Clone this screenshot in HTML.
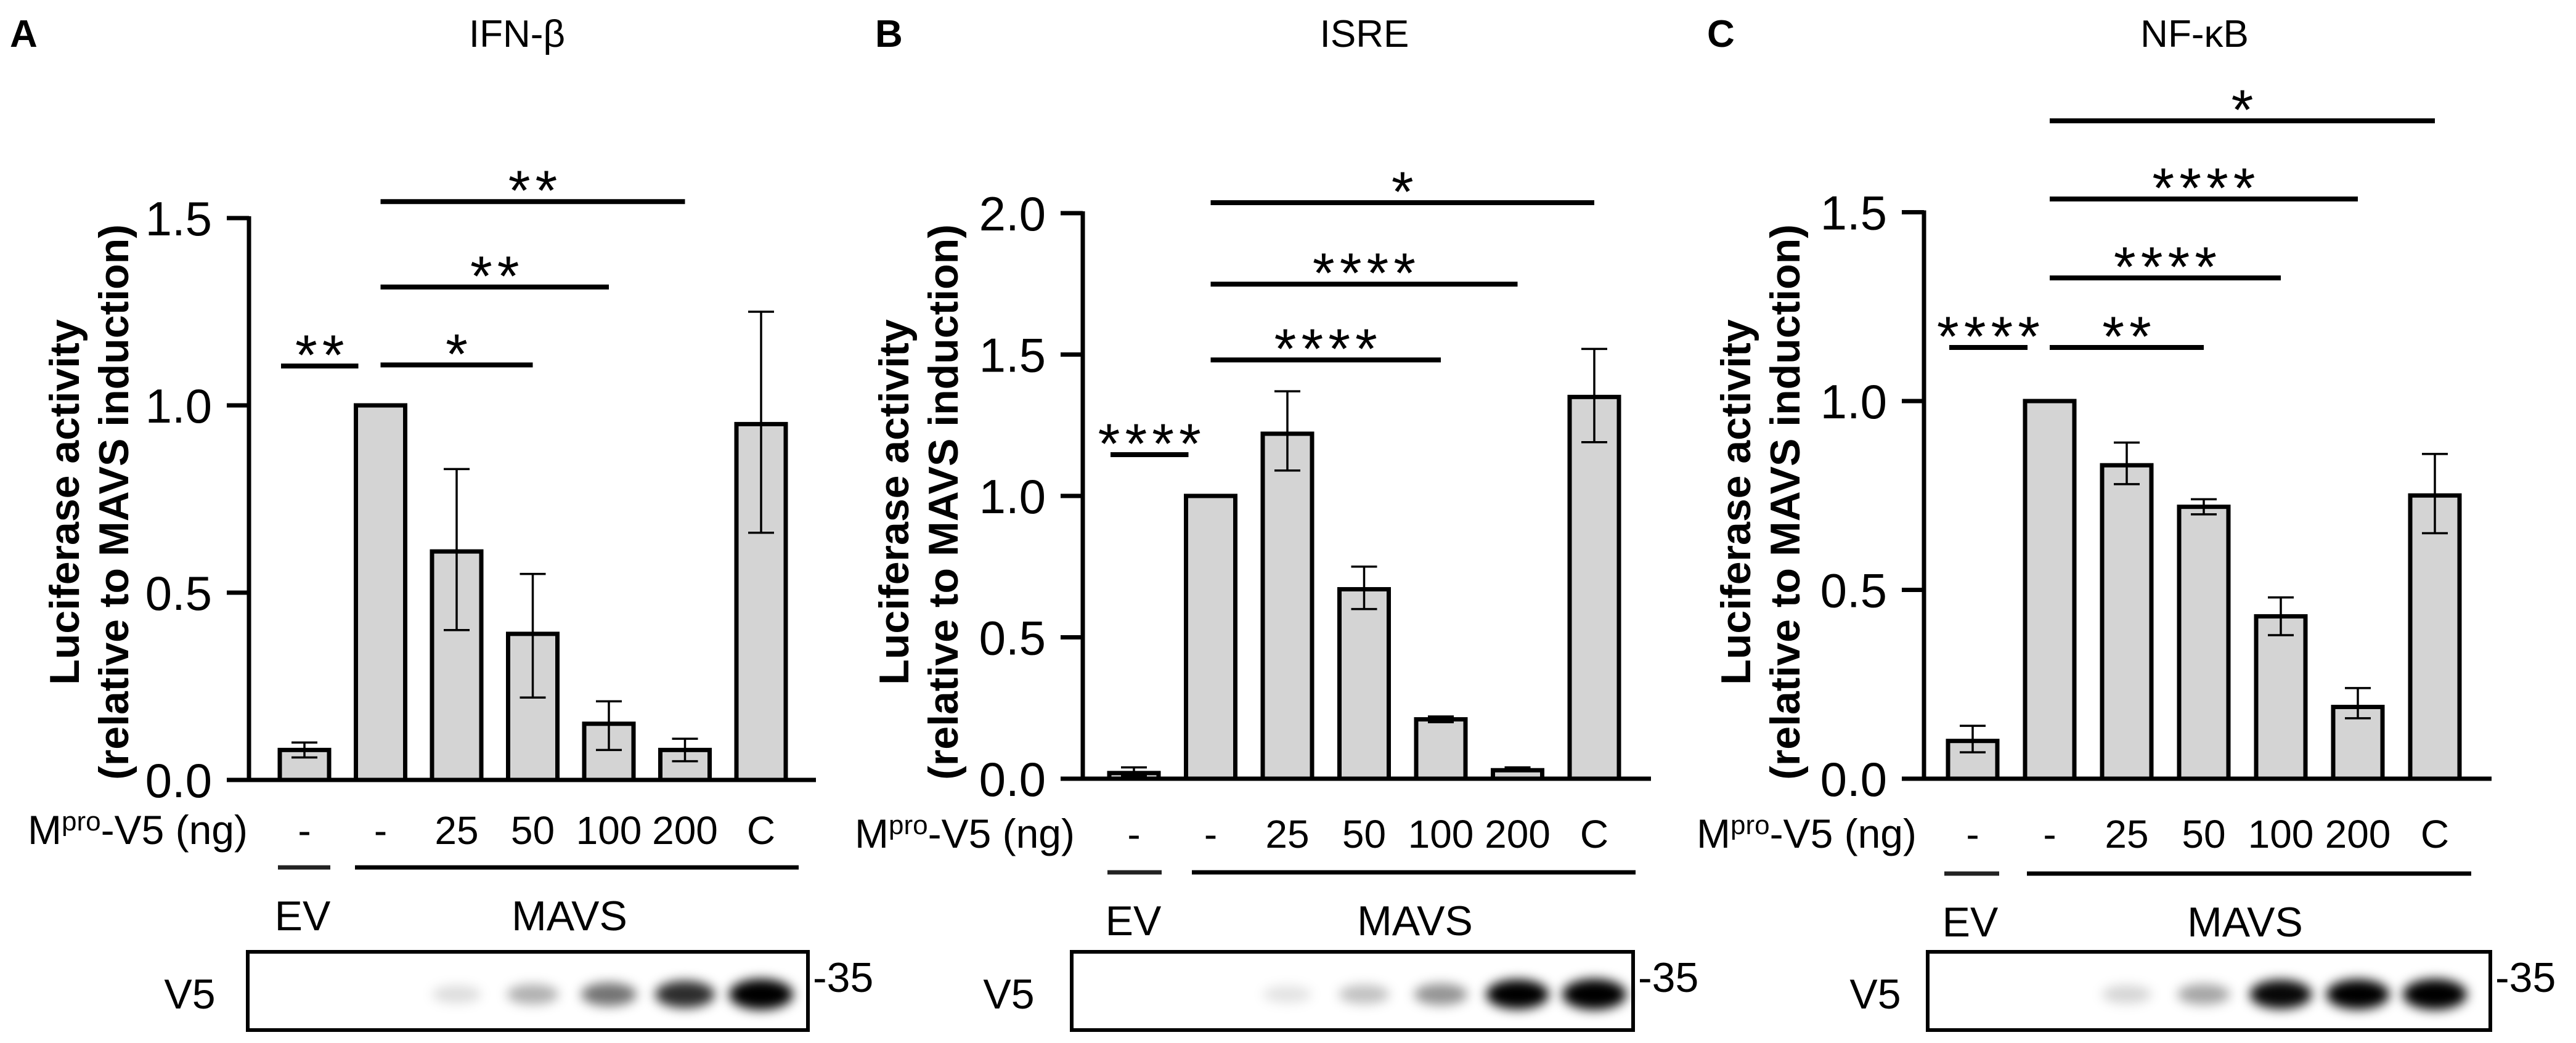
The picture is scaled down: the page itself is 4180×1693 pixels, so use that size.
<!DOCTYPE html>
<html><head><meta charset="utf-8">
<style>
html,body{margin:0;padding:0;background:#fff;}
svg{display:block;font-family:"Liberation Sans",sans-serif;}
</style></head>
<body>
<svg id="fig" xmlns="http://www.w3.org/2000/svg" width="4180" height="1693" viewBox="0 0 4180 1693">
<defs>
<filter id="blur" x="-50%" y="-80%" width="200%" height="260%"><feGaussianBlur stdDeviation="9"/></filter>
</defs>
</svg>
<script>
// ---- data ----
const categories = ["-", "-", "25", "50", "100", "200", "C"];
const meansA = [0.08, 1.0, 0.61, 0.39, 0.15, 0.08, 0.95];
const errLoA = [0.06, 1.0, 0.40, 0.22, 0.08, 0.05, 0.66];
const errHiA = [0.10, 1.0, 0.83, 0.55, 0.21, 0.11, 1.25];
const ticksA = [0, 0.5, 1.0, 1.5];
const tickLabelsA = ["0.0", "0.5", "1.0", "1.5"];
const sigFromA = [0, 1, 1, 1];
const sigToA = [1, 3, 4, 5];
const sigValA = [1.105, 1.108, 1.316, 1.544];
const sigLabelA = ["**", "*", "**", "**"];
const bandsA = [0, 0, 0.12, 0.28, 0.5, 0.75, 1.0];

const meansB = [0.02, 1.0, 1.22, 0.67, 0.21, 0.03, 1.35];
const errLoB = [0.01, 1.0, 1.09, 0.60, 0.20, 0.03, 1.19];
const errHiB = [0.04, 1.0, 1.37, 0.75, 0.22, 0.04, 1.52];
const ticksB = [0, 0.5, 1.0, 1.5, 2.0];
const tickLabelsB = ["0.0", "0.5", "1.0", "1.5", "2.0"];
const sigFromB = [0, 1, 1, 1];
const sigToB = [1, 4, 5, 6];
const sigValB = [1.146, 1.481, 1.749, 2.037];
const sigLabelB = ["****", "****", "****", "*"];
const bandsB = [0, 0, 0.1, 0.22, 0.38, 0.92, 1.0];

const meansC = [0.10, 1.0, 0.83, 0.72, 0.43, 0.19, 0.75];
const errLoC = [0.07, 1.0, 0.78, 0.70, 0.38, 0.16, 0.65];
const errHiC = [0.14, 1.0, 0.89, 0.74, 0.48, 0.24, 0.86];
const ticksC = [0, 0.5, 1.0, 1.5];
const tickLabelsC = ["0.0", "0.5", "1.0", "1.5"];
const sigFromC = [0, 1, 1, 1, 1];
const sigToC = [1, 3, 4, 5, 6];
const sigValC = [1.142, 1.142, 1.326, 1.535, 1.742];
const sigLabelC = ["****", "**", "****", "****", "*"];
const bandsC = [0, 0, 0.15, 0.32, 0.88, 0.95, 1.0];

const svg = document.getElementById('fig');
const NS = "http://www.w3.org/2000/svg";
function mk(tag, attrs, parent) {
  const e = document.createElementNS(NS, tag);
  for (const k in attrs) e.setAttribute(k, attrs[k]);
  (parent || svg).appendChild(e);
  return e;
}

function panel(cfg, means, lo, hi, ticks, tickLabels, sFrom, sTo, sVal, sLab, bands) {
  const g = mk('g', {});
  
  
  const yS = v => cfg.y0 - v * cfg.ppu;
  const xS = i => cfg.ax + cfg.off + i * cfg.step;
  const bw = 80;

  let t = mk('text', {x: cfg.letterX, y: 76, 'font-size': 62, 'font-weight': 'bold'}, g);
  t.textContent = cfg.letter;
  
  
  t = mk('text', {x: cfg.titleX, y: 76, 'font-size': 62, 'text-anchor': 'middle'}, g);
  t.textContent = cfg.title;
  
  

  const yl = mk('g', {transform: 'translate(' + cfg.ylX + ',815) rotate(-90)'}, g);
  
  
  t = mk('text', {x: 0, y: 0, 'font-size': 68, 'font-weight': 'bold', 'text-anchor': 'middle'}, yl);
  t.textContent = 'Luciferase activity';
  t = mk('text', {x: 0, y: 80, 'font-size': 68, 'font-weight': 'bold', 'text-anchor': 'middle'}, yl);
  t.textContent = '(relative to MAVS induction)';

  const top = yS(ticks[ticks.length - 1]);
  let a = mk('line', {x1: cfg.ax, y1: top - 3, x2: cfg.ax, y2: cfg.y0 + 3, stroke: '#000', 'stroke-width': 7}, g);
  
  
  a = mk('line', {x1: cfg.ax - 36, y1: cfg.y0, x2: cfg.xEnd, y2: cfg.y0, stroke: '#000', 'stroke-width': 7}, g);
  
  
  ticks.forEach((v, i) => {
    const tk = mk('line', {x1: cfg.ax - 36, y1: yS(v), x2: cfg.ax, y2: yS(v), stroke: '#000', 'stroke-width': 7}, g);
    
    
    const tl = mk('text', {x: cfg.ax - 60, y: yS(v) + 28, 'font-size': 78, 'text-anchor': 'end'}, g);
    tl.textContent = tickLabels[i];
    
    
  });

  means.forEach((m, i) => {
    const cx = xS(i);
    const b = mk('rect', {x: cx - bw / 2, y: yS(m), width: bw, height: cfg.y0 - yS(m), fill: '#d4d4d4', stroke: '#000', 'stroke-width': 7}, g);
    
    
    if (hi[i] - lo[i] > 0.001) {
      const e = mk('path', {d: 'M' + (cx - 21) + ' ' + yS(hi[i]) + 'H' + (cx + 21) + 'M' + cx + ' ' + yS(hi[i]) + 'V' + yS(lo[i]) + 'M' + (cx - 21) + ' ' + yS(lo[i]) + 'H' + (cx + 21), stroke: '#000', 'stroke-width': 3.5, fill: 'none'}, g);
      
      
    }
    const cl = mk('text', {x: cx, y: cfg.catY, 'font-size': 64, 'text-anchor': 'middle'}, g);
    cl.textContent = categories[i];
    
    
  });

  sVal.forEach((v, k) => {
    const y = yS(v);
    const x1 = sFrom[k] === 0 ? xS(0) - 38 : xS(sFrom[k]);
    const x2 = sFrom[k] === 0 ? xS(1) - 36 : xS(sTo[k]);
    const l = mk('line', {x1: x1, y1: y, x2: x2, y2: y, stroke: '#000', 'stroke-width': 8}, g);
    
    
    const st = mk('text', {x: (x1 + x2) / 2 + 4, y: y + 14, 'font-size': 92, 'text-anchor': 'middle', 'letter-spacing': 8}, g);
    st.textContent = sLab[k];
    
    
  });

  t = mk('text', {x: cfg.mproX, y: cfg.catY, 'font-size': 66, 'text-anchor': 'end'}, g);
  
  
  const s1 = mk('tspan', {}, t); s1.textContent = 'M';
  const s2 = mk('tspan', {'font-size': 44, dy: -22}, t); s2.textContent = 'pro';
  const s3 = mk('tspan', {dy: 22}, t); s3.textContent = '-V5 (ng)';

  let gl = mk('line', {x1: cfg.evL[0], y1: cfg.gY, x2: cfg.evL[1], y2: cfg.gY, stroke: '#222', 'stroke-width': 7}, g);
  
  
  gl = mk('line', {x1: cfg.mvL[0], y1: cfg.gY, x2: cfg.mvL[1], y2: cfg.gY, stroke: '#000', 'stroke-width': 7}, g);
  
  
  t = mk('text', {x: cfg.evX, y: cfg.gY + 102, 'font-size': 68, 'text-anchor': 'middle'}, g);
  t.textContent = 'EV';
  
  
  t = mk('text', {x: cfg.mvX, y: cfg.gY + 102, 'font-size': 68, 'text-anchor': 'middle'}, g);
  t.textContent = 'MAVS';
  
  

  const bl = mk('g', {}, g);
  
  
  bands.forEach((v, i) => {
    if (v <= 0) return;
    const e = mk('ellipse', {cx: xS(i), cy: 1614, rx: 38 + v * 14, ry: 13 + v * 12, fill: '#000', 'fill-opacity': Math.min(1, v * 1.1), filter: 'url(#blur)'}, bl);
    
    
  });
  let bx = mk('rect', {x: cfg.box[0], y: 1545, width: cfg.box[1] - cfg.box[0], height: 127, fill: 'none', stroke: '#000', 'stroke-width': 6}, g);
  
  
  t = mk('text', {x: cfg.v5X, y: 1637, 'font-size': 68, 'text-anchor': 'middle'}, g);
  t.textContent = 'V5';
  
  
  t = mk('text', {x: cfg.box[1] + 8, y: 1610, 'font-size': 68}, g);
  t.textContent = '-35';
  
  
}

panel({letter: 'A', letterX: 16, title: 'IFN-\u03B2', titleX: 839, ylX: 128, ax: 404, off: 90, step: 123.5, xEnd: 1324, y0: 1266, ppu: 608,
  catY: 1370, mproX: 402, gY: 1408, evL: [451, 536], mvL: [576, 1296], evX: 491, mvX: 924, box: [402, 1311], v5X: 308},
  meansA, errLoA, errHiA, ticksA, tickLabelsA, sigFromA, sigToA, sigValA, sigLabelA, bandsA);
panel({letter: 'B', letterX: 1420, title: 'ISRE', titleX: 2214, ylX: 1474, ax: 1757, off: 83, step: 124.5, xEnd: 2679, y0: 1264, ppu: 459,
  catY: 1376, mproX: 1744, gY: 1416, evL: [1797, 1885], mvL: [1934, 2654], evX: 1839, mvX: 2296, box: [1739, 2650], v5X: 1637},
  meansB, errLoB, errHiB, ticksB, tickLabelsB, sigFromB, sigToB, sigValB, sigLabelB, bandsB);
panel({letter: 'C', letterX: 2770, title: 'NF-\u03BAB', titleX: 3561, ylX: 2840, ax: 3122, off: 79, step: 125, xEnd: 4043, y0: 1264, ppu: 613,
  catY: 1376, mproX: 3110, gY: 1418, evL: [3155, 3244], mvL: [3289, 4010], evX: 3197, mvX: 3643, box: [3128, 4041], v5X: 3043},
  meansC, errLoC, errHiC, ticksC, tickLabelsC, sigFromC, sigToC, sigValC, sigLabelC, bandsC);
</script>
</body></html>
